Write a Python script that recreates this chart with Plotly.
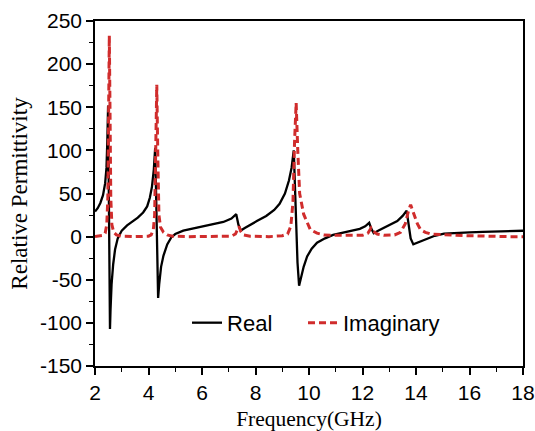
import plotly.graph_objects as go

# Measured relative permittivity spectrum (real and imaginary parts)
freq_real = [2.0, 2.1, 2.2, 2.3, 2.38, 2.43, 2.46, 2.49, 2.52, 2.54, 2.56, 2.58, 2.62, 2.68,
             2.75, 2.85, 3.0, 3.2, 3.4, 3.6, 3.8, 3.95, 4.05, 4.13, 4.2, 4.25, 4.29, 4.33,
             4.36, 4.4, 4.47, 4.56, 4.7, 4.85, 5.0, 5.3, 5.6, 6.0, 6.4, 6.8, 7.1, 7.28,
             7.36, 7.45, 7.6, 7.8, 8.05, 8.4, 8.7, 8.9, 9.1, 9.25, 9.35, 9.43, 9.5, 9.57,
             9.63, 9.68, 9.8, 9.93, 10.1, 10.3, 10.6, 10.9, 11.2, 11.55, 11.9, 12.1, 12.25,
             12.33, 12.42, 12.6, 12.85, 13.05, 13.3, 13.5, 13.65, 13.72, 13.8, 13.9, 14.05,
             14.2, 14.42, 14.7, 15.05, 15.5, 16.0, 16.5, 17.0, 17.55, 18.0]
eps_real = [29, 33, 39, 48, 62, 80, 110, 152, 40, -60, -107, -85, -55, -32,
            -15, -2, 7, 13, 17, 22, 28, 35, 45, 58, 78, 103, 40, -40,
            -71, -55, -35, -22, -9, -1, 3, 7, 9, 11, 13.5, 17, 21, 26,
            14, 7, 10, 14, 18, 24, 31, 38, 50, 65, 80, 100, 30, -30,
            -57, -50, -35, -23, -14, -7, -2, 2, 4, 6, 9, 12, 16,
            9, 4, 7, 11, 14, 18, 24, 30, 15, -2, -9, -7,
            -5, -2, 1, 3.5, 4.5, 5, 5.5, 6, 6.3, 6.8]

freq_imag = [2.0, 2.2, 2.3, 2.38, 2.44, 2.48, 2.51, 2.535, 2.56, 2.59, 2.63, 2.7, 2.8, 3.0,
             3.5, 4.0, 4.1, 4.18, 4.23, 4.27, 4.31, 4.35, 4.39, 4.45, 4.56, 4.7, 4.9, 5.5,
             6.5, 7.1, 7.25, 7.33, 7.38, 7.45, 7.55, 7.8, 8.5, 9.0, 9.2, 9.32, 9.4, 9.46,
             9.52, 9.58, 9.65, 9.8, 9.95, 10.05, 10.3, 10.55, 11.0, 11.5, 12.0, 12.2, 12.32,
             12.4, 12.55, 12.8, 13.2, 13.42, 13.6, 13.72, 13.8, 13.9, 14.05, 14.17, 14.35,
             14.55, 15.0, 15.5, 16.0, 16.5, 17.0, 17.5, 18.0]
eps_imag = [0, 0.5, 1.5, 4, 14, 45, 150, 233, 150, 45, 14, 5, 2, 0.5,
            0, 0.5, 2, 8, 25, 90, 176, 90, 25, 11, 5, 2, 0.5, 0,
            0, 0.5, 3, 10, 12, 6, 2, 0.5, 0, 1, 3, 12, 40, 110,
            155, 100, 50, 26, 14, 8, 4, 2, 1.5, 1.5, 1.5, 4, 10,
            6, 3, 1.5, 2, 5, 15, 30, 37, 28, 15, 8, 5,
            3, 2, 1.5, 1, 0.5, 0.3, 0, 0]

x_ticks = [2, 4, 6, 8, 10, 12, 14, 16, 18]
y_ticks = [-150, -100, -50, 0, 50, 100, 150, 200, 250]
x_ticklabels = [str(v) for v in x_ticks]
y_ticklabels = [str(v) for v in y_ticks]  # plain hyphen-minus signs

sans = "Arial, Liberation Sans, sans-serif"
serif = "Times New Roman, Liberation Serif, serif"

fig = go.Figure()
fig.add_trace(go.Scatter(
    x=freq_real, y=eps_real, mode="lines", name="Real", legend="legend",
    line=dict(color="black", width=2.3),
))
fig.add_trace(go.Scatter(
    x=freq_imag, y=eps_imag, mode="lines", name="Imaginary", legend="legend2",
    line=dict(color="#d02c2c", width=3, dash="7px,4px"),
))

axis_common = dict(
    showgrid=False, zeroline=False, showline=True, linecolor="black", linewidth=1.5,
    mirror=True, ticks="outside", ticklen=7, tickwidth=1.5, tickcolor="black",
    tickfont=dict(family=sans, size=21, color="black"), automargin=False,
)

fig.update_xaxes(
    range=[2, 18], tickvals=x_ticks, ticktext=x_ticklabels, ticklabelstandoff=0,
    minor=dict(dtick=1, ticks="outside", ticklen=4, tickwidth=1.2, tickcolor="black"),
    title=dict(text="Frequency(GHz)", font=dict(family=serif, size=21.5, color="black"),
               standoff=14),
    **axis_common,
)
fig.update_yaxes(
    range=[-150, 250], tickvals=y_ticks, ticktext=y_ticklabels,
    minor=dict(dtick=25, ticks="outside", ticklen=4, tickwidth=1.2, tickcolor="black"),
    title=dict(text="Relative Permittivity", font=dict(family=serif, size=23, color="black"),
               standoff=6),
    **axis_common,
)

legend_style = dict(
    orientation="h", y=0.125, xanchor="left", yanchor="middle",
    bgcolor="rgba(0,0,0,0)", font=dict(family=sans, size=22, color="black"),
)

fig.update_layout(
    width=535, height=431,
    margin=dict(l=95, r=12, t=21, b=65),
    paper_bgcolor="white", plot_bgcolor="white",
    showlegend=True,
    legend=dict(x=0.215, **legend_style),
    legend2=dict(x=0.486, **legend_style),
)

fig.write_html("out.html")
